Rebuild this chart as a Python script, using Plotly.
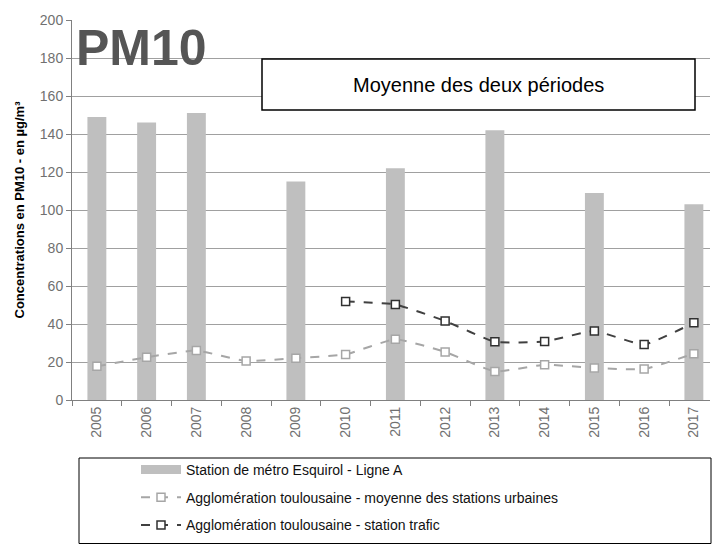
import plotly.graph_objects as go

years = ["2005","2006","2007","2008","2009","2010","2011","2012","2013","2014","2015","2016","2017"]
esquirol = [149, 146, 151, None, 115, None, 122, None, 142, None, 109, None, 103]
urbain = [17.7, 22.5, 26, 20.5, 22, 24, 32, 25.3, 15, 18.6, 16.8, 16.3, 24.4]
trafic = [None, None, None, None, None, 51.9, 50.3, 41.6, 30.6, 30.8, 36.3, 29.2, 40.7]

name_bar = "Station de métro Esquirol - Ligne A"
name_urb = "Agglomération toulousaine - moyenne des stations urbaines"
name_tra = "Agglomération toulousaine - station trafic"

BAR_COLOR = "#bfbfbf"
L, R, T, B = 72, 2, 20, 144
W, H = 712, 544
PW, PH = W - L - R, H - T - B

def px(x):
    return (x - L) / PW

def py(y):
    return (H - B - y) / PH

fig = go.Figure()
fig.add_trace(go.Bar(x=years, y=esquirol, name=name_bar, legendgroup="a", showlegend=False,
                     marker=dict(color=BAR_COLOR, line=dict(width=0)), width=0.38))
# legend entry for the bars (wide flat swatch, as in the reference)
fig.add_trace(go.Scatter(x=[None], y=[None], name=name_bar, legendgroup="a", mode="lines",
                         line=dict(color=BAR_COLOR, width=9), hoverinfo="skip"))
fig.add_trace(go.Scatter(x=years, y=urbain, name=name_urb, mode="lines+markers", legendgroup="b",
                         line=dict(color="#a6a6a6", width=2, dash="dash", shape="spline", smoothing=0.4),
                         marker=dict(symbol="square", size=8, color="white", line=dict(color="#a6a6a6", width=1.5))))
fig.add_trace(go.Scatter(x=years, y=trafic, name=name_tra, mode="lines+markers", legendgroup="c",
                         line=dict(color="#404040", width=2, dash="dash", shape="spline", smoothing=0.4),
                         marker=dict(symbol="square", size=8, color="white", line=dict(color="#303030", width=1.5))))

fig.update_layout(
    width=W, height=H,
    margin=dict(l=L, r=R, t=T, b=B, autoexpand=False),
    paper_bgcolor="white", plot_bgcolor="white",
    font=dict(family="Liberation Sans, Arial, sans-serif", color="#000"),
    showlegend=True,
    legend=dict(x=px(136), y=py(454), xanchor="left", yanchor="top", bgcolor="rgba(0,0,0,0)",
                borderwidth=0, font=dict(size=14, color="#111"), tracegroupgap=6.5, itemwidth=40),
    xaxis=dict(type="category", range=[-0.5, 12.324], tickangle=-90, tickson="boundaries", ticks="outside", ticklen=5,
               tickcolor="#808080", showline=True, linecolor="#808080", linewidth=1, automargin=False,
               tickfont=dict(size=14, color="#707070"), showgrid=False),
    yaxis=dict(range=[0, 200], dtick=20, ticks="outside", ticklen=5, tickcolor="#808080", automargin=False,
               showline=True, linecolor="#808080", linewidth=1, showgrid=True, gridcolor="#a0a0a0",
               gridwidth=1, tickfont=dict(size=14, color="#707070"), zeroline=False,
               title=dict(text="<b>Concentrations en PM10 - en µg/m³</b>", font=dict(size=13, color="#000"), standoff=12)),
    shapes=[
        dict(type="rect", xref="paper", yref="paper", x0=px(262), x1=px(695),
             y0=py(110), y1=py(59), line=dict(color="#000", width=1.5), fillcolor="white", layer="above"),
        dict(type="rect", xref="paper", yref="paper", x0=px(79), x1=px(711),
             y0=py(543.5), y1=py(458), line=dict(color="#000", width=1), fillcolor="rgba(0,0,0,0)"),
    ],
    annotations=[
        dict(text="Moyenne des deux périodes", xref="paper", yref="paper", x=px(478), y=py(85),
             showarrow=False, font=dict(size=20, color="#000"), xanchor="center", yanchor="middle"),
        dict(text="<b>PM10</b>", xref="paper", yref="paper", x=px(141), y=py(48),
             showarrow=False, font=dict(size=50, color="#555555", family="Liberation Sans"),
             xanchor="center", yanchor="middle"),
    ],
)

fig.write_html("out.html", config={"displayModeBar": False},
               post_script="document.body.style.margin='0';document.body.style.overflow='hidden';")
